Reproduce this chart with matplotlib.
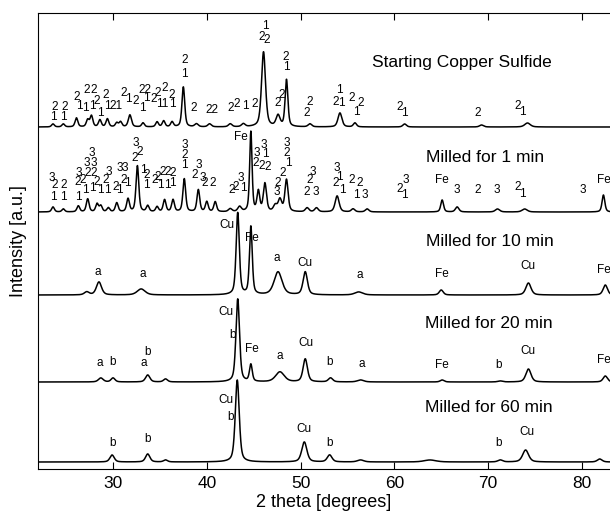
import matplotlib
matplotlib.use("Agg")
import matplotlib.pyplot as plt
import numpy as np

plt.rcParams['font.family'] = ['Liberation Sans', 'DejaVu Sans']

# sample names and vertical offsets of each pattern (a.u.)
names = ["Starting Copper Sulfide", "Milled for 1 min", "Milled for 10 min",
         "Milled for 20 min", "Milled for 60 min"]
offsets = [342, 257, 174, 87, 7]

# peaks: 2theta [deg], height [a.u.], fwhm [deg]
pos_0 = [23.6, 24.7, 26.1, 27.3, 27.7, 28.6, 29.4, 30.4, 30.8, 31.8, 33.2, 34.7, 35.4, 36.3,
         37.5, 38.9, 40.3, 42.5, 43.9, 46.05, 47.6, 48.5, 51.0, 54.2, 55.8, 61.1, 69.3, 74.2]
hgt_0 = [3, 3, 9, 7, 11, 7, 8, 4, 5, 12, 4, 5, 6, 5,
         40, 3, 3, 3, 3, 75, 11, 47, 3, 14, 4, 3, 2, 4]
wid_0 = [0.35, 0.35, 0.35, 0.35, 0.35, 0.35, 0.35, 0.35, 0.35, 0.4, 0.35, 0.35, 0.35, 0.35,
         0.35, 0.45, 0.45, 0.45, 0.45, 0.5, 0.5, 0.35, 0.45, 0.5, 0.4, 0.45, 0.5, 0.7]

pos_1 = [23.6, 24.7, 26.3, 27.3, 28.3, 28.7, 29.5, 30.4, 31.6, 32.6, 33.7, 34.7, 35.5, 36.4,
         37.6, 39.1, 40.0, 40.9, 42.5, 43.5, 44.7, 45.5, 46.2, 47.3, 47.8, 48.5, 50.7, 51.7,
         53.9, 55.6, 57.1, 65.1, 66.7, 71.0, 73.9, 82.3]
hgt_1 = [5, 3, 6, 13, 8, 6, 4, 9, 13, 46, 6, 5, 12, 12,
         33, 22, 10, 10, 3, 5, 80, 20, 28, 6, 12, 32, 4, 4,
         16, 3, 3, 12, 5, 3, 3, 17]
wid_1 = [0.35, 0.35, 0.35, 0.35, 0.35, 0.35, 0.35, 0.35, 0.35, 0.35, 0.35, 0.35, 0.35, 0.35,
         0.35, 0.35, 0.35, 0.35, 0.45, 0.45, 0.3, 0.35, 0.4, 0.45, 0.45, 0.4, 0.45, 0.45,
         0.5, 0.45, 0.45, 0.35, 0.45, 0.55, 0.65, 0.35]

pos_2 = [27.2, 28.5, 33.0, 43.3, 44.7, 47.6, 50.5, 56.2, 65.0, 74.3, 82.5]
hgt_2 = [3, 13, 6, 82, 68, 23, 23, 3, 5, 12, 10]
wid_2 = [0.6, 0.65, 1.0, 0.4, 0.35, 1.0, 0.55, 1.0, 0.5, 0.65, 0.55]

pos_3 = [28.7, 30.0, 33.7, 35.6, 43.3, 44.7, 47.8, 50.5, 53.2, 56.4, 65.1, 71.3, 74.3, 82.5]
hgt_3 = [4, 4, 7, 3, 83, 17, 10, 23, 4, 2, 2, 1, 13, 6]
wid_3 = [0.6, 0.5, 0.55, 0.5, 0.45, 0.35, 1.1, 0.55, 0.55, 0.8, 0.5, 0.6, 0.65, 0.55]

pos_4 = [29.9, 33.7, 35.6, 43.25, 50.4, 53.1, 56.4, 63.8, 71.3, 74.0, 81.9]
hgt_4 = [7, 8, 2, 82, 20, 7, 2, 2, 2, 12, 3]
wid_4 = [0.55, 0.55, 0.5, 0.5, 0.65, 0.6, 0.8, 1.5, 0.6, 0.75, 0.6]

peaks = [(pos_0, hgt_0, wid_0), (pos_1, hgt_1, wid_1), (pos_2, hgt_2, wid_2),
         (pos_3, hgt_3, wid_3), (pos_4, hgt_4, wid_4)]

# phase labels: (2theta, intensity, text)
labels_0 = [(23.8, 362, "2"), (23.6, 352, "1"), (24.8, 362, "2"), (24.7, 352, "1"),
            (26.1, 372, "2"), (27.2, 379, "2"), (27.9, 379, "2"), (26.4, 363, "1"),
            (27.1, 361, "1"), (27.8, 363, "1"), (28.3, 368, "2"), (28.6, 356, "1"),
            (29.2, 374, "2"), (29.4, 363, "1"), (30.3, 363, "21"), (31.1, 376, "2"),
            (31.6, 370, "1"), (32.4, 368, "2"), (33.1, 361, "1"), (33.4, 379, "22"),
            (33.6, 371, "1"), (34.3, 370, "2"), (34.8, 376, "2"), (35.5, 381, "2"),
            (35.3, 365, "11"), (36.3, 374, "2"), (36.3, 365, "1"), (37.6, 409, "2"),
            (37.6, 395, "1"), (38.6, 361, "2"), (40.5, 359, "22"), (42.6, 361, "2"),
            (43.2, 365, "2"), (44.1, 363, "1"), (45.1, 365, "2"), (46.2, 443, "1"),
            (45.9, 432, "2"), (46.4, 429, "2"), (48.4, 412, "2"), (48.5, 402, "1"),
            (48.0, 374, "2"), (47.6, 366, "2"), (51.0, 367, "2"), (50.7, 356, "2"),
            (54.1, 379, "1"), (53.7, 367, "2"), (54.4, 366, "1"), (55.5, 371, "2"),
            (56.4, 366, "2"), (55.9, 357, "1"), (60.6, 362, "2"), (61.1, 356, "1"),
            (68.9, 356, "2"), (73.2, 363, "2"), (73.7, 357, "1")]
labels_1 = [(23.5, 291, "3"), (23.8, 284, "2"), (23.6, 272, "1"), (24.7, 284, "2"),
            (24.7, 272, "1"), (26.3, 296, "3"), (26.2, 287, "2"), (26.3, 272, "1"),
            (27.7, 316, "3"), (27.2, 306, "3"), (27.9, 306, "3"), (27.3, 296, "2"),
            (27.9, 296, "2"), (26.8, 289, "2"), (27.0, 279, "1"), (28.3, 287, "2"),
            (27.8, 281, "1"), (28.6, 279, "1"), (29.5, 297, "3"), (29.2, 289, "2"),
            (29.4, 279, "1"), (30.7, 301, "3"), (31.3, 301, "3"), (30.3, 282, "2"),
            (31.1, 289, "2"), (31.5, 286, "1"), (30.7, 279, "1"), (32.4, 326, "3"),
            (32.8, 317, "2"), (32.3, 311, "2"), (33.2, 299, "1"), (33.6, 294, "2"),
            (33.6, 284, "1"), (34.4, 289, "2"), (34.8, 292, "2"), (35.3, 297, "2"),
            (35.8, 297, "2"), (35.1, 284, "1"), (35.8, 284, "1"), (36.4, 296, "2"),
            (36.3, 286, "1"), (37.6, 324, "3"), (37.6, 314, "2"), (37.6, 304, "1"),
            (39.1, 304, "3"), (38.7, 294, "2"), (39.6, 291, "3"), (39.8, 286, "2"),
            (40.6, 286, "2"), (42.7, 279, "2"), (43.1, 282, "2"), (43.6, 291, "3"),
            (43.9, 281, "1"), (43.6, 332, "Fe"), (45.3, 316, "3"), (46.1, 324, "3"),
            (46.2, 315, "1"), (45.2, 306, "2"), (45.9, 303, "2"), (46.5, 302, "2"),
            (48.5, 326, "3"), (48.5, 316, "2"), (48.7, 306, "1"), (48.1, 296, "2"),
            (47.6, 286, "2"), (47.5, 277, "3"), (51.3, 297, "3"), (51.0, 289, "2"),
            (50.7, 277, "2"), (51.6, 277, "3"), (53.9, 301, "3"), (54.1, 292, "1"),
            (53.7, 286, "2"), (54.5, 279, "1"), (55.5, 289, "2"), (56.3, 286, "2"),
            (55.9, 274, "1"), (56.9, 274, "3"), (61.2, 289, "3"), (60.6, 280, "2"),
            (61.1, 274, "1"), (65.1, 289, "Fe"), (66.7, 279, "3"), (68.9, 279, "2"),
            (70.9, 279, "3"), (73.2, 282, "2"), (73.7, 275, "1"), (80.1, 279, "3"),
            (82.4, 289, "Fe")]
labels_2 = [(28.4, 197, "a"), (33.2, 195, "a"), (42.1, 244, "Cu"), (44.8, 231, "Fe"),
            (47.5, 211, "a"), (50.5, 206, "Cu"), (56.3, 194, "a"), (65.1, 195, "Fe"),
            (74.2, 203, "Cu"), (82.4, 199, "Fe")]
labels_3 = [(42.0, 157, "Cu"), (42.7, 134, "b"), (44.8, 120, "Fe"), (28.6, 106, "a"),
            (30.0, 107, "b"), (33.7, 117, "b"), (33.3, 106, "a"), (47.8, 113, "a"),
            (50.6, 126, "Cu"), (53.1, 107, "b"), (56.5, 105, "a"), (65.1, 104, "Fe"),
            (71.1, 104, "b"), (74.2, 118, "Cu"), (82.4, 109, "Fe")]
labels_4 = [(42.0, 69, "Cu"), (42.5, 52, "b"), (29.9, 26, "b"), (33.7, 30, "b"),
            (50.4, 40, "Cu"), (53.1, 26, "b"), (71.1, 26, "b"), (74.1, 37, "Cu")]
title_pos = [(67.2, 406), (69.7, 311), (70.2, 227), (70.1, 145), (70.1, 62)]

fig = plt.figure(figsize=(6.1, 5.18), dpi=100)
ax = fig.add_axes([38 / 610, 49 / 518, 572 / 610, 456 / 518])

# pseudo-Voigt profile (half Lorentz, half Gauss) around each listed peak
tt = np.linspace(22, 83, 4000)
for (p, h, w), off in zip(peaks, offsets):
    y = np.full_like(tt, off, dtype=float)
    for c, a, f in zip(p, h, w):
        u = (tt - c) / (f / 2)
        y += a * (0.5 / (1 + u ** 2) + 0.5 * np.exp(-np.log(2) * u ** 2))
    ax.plot(tt, y, color='black', lw=1.1)

for lab in [labels_0, labels_1, labels_2, labels_3, labels_4]:
    for x, y, s in lab:
        ax.text(x, y, s, ha='center', va='center', fontsize=8.5)

for name, (x, y) in zip(names, title_pos):
    ax.text(x, y, name, ha='center', va='center', fontsize=12.5)

ax.set_xlim(22, 83)
ax.set_ylim(0, 456)
ax.set_xticks([30, 40, 50, 60, 70, 80])
ax.set_yticks([])
ax.tick_params(axis='x', direction='in', top=True, length=5, labelsize=12.5, pad=5)
ax.spines['right'].set_visible(False)
ax.set_xlabel("2 theta [degrees]", fontsize=13, labelpad=2)
ax.set_ylabel("Intensity [a.u.]", fontsize=13, labelpad=8)

fig.savefig("out.png", dpi=100)
